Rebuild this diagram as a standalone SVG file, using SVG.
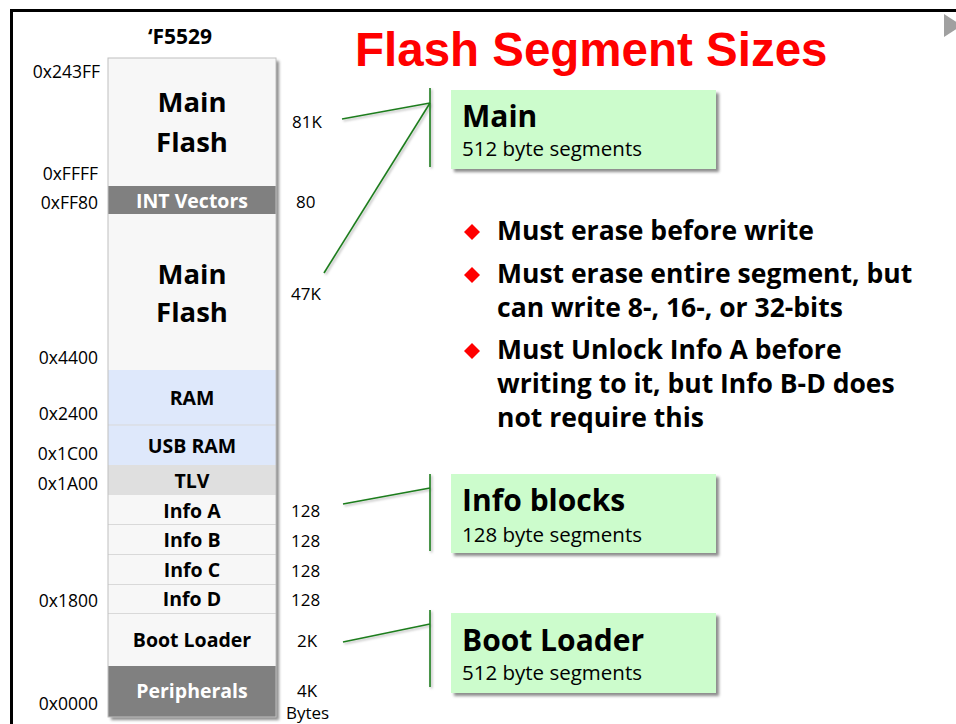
<svg xmlns="http://www.w3.org/2000/svg" width="956" height="724" viewBox="0 0 956 724">
<defs>
<filter id="sh" x="-10%" y="-10%" width="130%" height="130%">
<feDropShadow dx="3" dy="3" stdDeviation="1.5" flood-color="#000" flood-opacity="0.45"/>
</filter>
<filter id="lsh" x="-20%" y="-20%" width="140%" height="140%">
<feDropShadow dx="1.5" dy="1.5" stdDeviation="0.8" flood-color="#000" flood-opacity="0.3"/>
</filter>
</defs>
<style>
.seg{font-family:"Open Sans","Liberation Sans",sans-serif;font-weight:bold;font-size:19.5px;text-anchor:middle;fill:#000}
.big{font-size:27.5px}
.wt{fill:#fff}
.addr{font-family:"Open Sans","Liberation Sans",sans-serif;font-size:17.5px;text-anchor:end;fill:#000}
.sz{font-family:"Open Sans","Liberation Sans",sans-serif;font-size:17px;fill:#000}
.bul{font-family:"Open Sans","Liberation Sans",sans-serif;font-weight:bold;font-size:26.5px;fill:#000}
.bt{font-family:"Open Sans","Liberation Sans",sans-serif;font-weight:bold;font-size:30px;fill:#000}
.bs{font-family:"Open Sans","Liberation Sans",sans-serif;font-size:20.5px;fill:#000}
.gbox{fill:#ccfccc}
.sep{stroke:#d9d9d9;stroke-width:1}
.conn{stroke:#1e7d1e;stroke-width:1.6;fill:none}
.dia{fill:#f00}
</style>
<rect x="0" y="0" width="956" height="724" fill="#fff"/>
<!-- frame -->
<path d="M11.5 724 V10.5 H956" fill="none" stroke="#000" stroke-width="3"/>
<polygon points="944,14 962,25.5 944,37" fill="#a0a0a0"/>
<!-- title -->
<text x="355" y="66" font-family="'Liberation Sans',Arial,sans-serif" font-weight="bold" font-size="47.5" fill="#f00">Flash Segment Sizes</text>
<text x="180" y="44" font-family="'Open Sans','Liberation Sans',sans-serif" font-weight="bold" font-size="21" text-anchor="middle">‘F5529</text>

<!-- memory column -->
<g id="memory-map">
<rect x="108" y="58" width="168" height="659" fill="#f7f7f7" filter="url(#sh)"/>
<g id="main-flash-1">
<rect x="108" y="58" width="168" height="128" fill="#f7f7f7"/>
<text class="seg big" x="192" y="112">Main</text>
<text class="seg big" x="192" y="152">Flash</text>
</g>
<g id="int-vectors">
<rect x="108" y="186" width="168" height="28" fill="#808080"/>
<text class="seg wt" x="192" y="208">INT Vectors</text>
</g>
<g id="main-flash-2">
<rect x="108" y="214" width="168" height="156" fill="#f7f7f7"/>
<text class="seg big" x="192" y="284">Main</text>
<text class="seg big" x="192" y="322">Flash</text>
</g>
<g id="ram">
<rect x="108" y="370" width="168" height="55" fill="#dee8fb"/>
<text class="seg" x="192" y="405">RAM</text>
</g>
<g id="usb-ram">
<rect x="108" y="425" width="168" height="40" fill="#dee8fb"/>
<line class="sep" x1="108" y1="425" x2="276" y2="425"/>
<text class="seg" x="192" y="453">USB RAM</text>
</g>
<g id="tlv">
<rect x="108" y="465" width="168" height="30" fill="#dfdfdf"/>
<text class="seg" x="192" y="488">TLV</text>
</g>
<g id="info-a">
<rect x="108" y="495" width="168" height="29" fill="#f7f7f7"/>
<text class="seg" x="192" y="518">Info A</text>
</g>
<g id="info-b">
<rect x="108" y="524" width="168" height="30" fill="#f7f7f7"/>
<line class="sep" x1="108" y1="524.5" x2="276" y2="524.5"/>
<text class="seg" x="192" y="547">Info B</text>
</g>
<g id="info-c">
<rect x="108" y="554" width="168" height="30" fill="#f7f7f7"/>
<line class="sep" x1="108" y1="554.5" x2="276" y2="554.5"/>
<text class="seg" x="192" y="577">Info C</text>
</g>
<g id="info-d">
<rect x="108" y="584" width="168" height="29" fill="#f7f7f7"/>
<line class="sep" x1="108" y1="584.5" x2="276" y2="584.5"/>
<text class="seg" x="192" y="606">Info D</text>
</g>
<g id="boot-loader">
<rect x="108" y="613" width="168" height="53" fill="#f7f7f7"/>
<line class="sep" x1="108" y1="613.5" x2="276" y2="613.5"/>
<text class="seg" x="192" y="647">Boot Loader</text>
</g>
<g id="peripherals">
<rect x="108" y="666" width="168" height="51" fill="#808080"/>
<text class="seg wt" x="192" y="698">Peripherals</text>
</g>
<rect x="108" y="58" width="168" height="659" fill="none" stroke="#c0c0c0" stroke-width="1"/>
</g>

<!-- addresses -->
<g id="addresses">
<text class="addr" x="100" y="78">0x243FF</text>
<text class="addr" x="98" y="180">0xFFFF</text>
<text class="addr" x="98" y="209">0xFF80</text>
<text class="addr" x="98" y="364">0x4400</text>
<text class="addr" x="98" y="420">0x2400</text>
<text class="addr" x="98" y="460">0x1C00</text>
<text class="addr" x="98" y="490">0x1A00</text>
<text class="addr" x="98" y="607">0x1800</text>
<text class="addr" x="98" y="710">0x0000</text>
</g>

<!-- sizes -->
<g id="sizes">
<text class="sz" x="292" y="128">81K</text>
<text class="sz" x="296" y="208">80</text>
<text class="sz" x="291" y="300">47K</text>
<text class="sz" x="291" y="517">128</text>
<text class="sz" x="291" y="547">128</text>
<text class="sz" x="291" y="577">128</text>
<text class="sz" x="291" y="606">128</text>
<text class="sz" x="297" y="647">2K</text>
<text class="sz" x="297" y="697">4K</text>
<text class="sz" x="286" y="719">Bytes</text>
</g>

<!-- connectors -->
<g id="connectors" filter="url(#lsh)">
<line class="conn" x1="430" y1="88" x2="430" y2="167"/>
<line class="conn" x1="342" y1="119" x2="430" y2="103"/>
<line class="conn" x1="324" y1="273" x2="430" y2="103"/>
<line class="conn" x1="430" y1="474" x2="430" y2="551"/>
<line class="conn" x1="343" y1="504" x2="430" y2="488"/>
<line class="conn" x1="430" y1="610" x2="430" y2="687"/>
<line class="conn" x1="343" y1="642" x2="430" y2="624"/>
</g>

<!-- green boxes -->
<g id="box-main">
<rect class="gbox" x="451" y="90" width="265" height="79" filter="url(#sh)"/>
<text class="bt" x="462" y="127">Main</text>
<text class="bs" x="462" y="156">512 byte segments</text>
</g>
<g id="box-info">
<rect class="gbox" x="451" y="474" width="265" height="79" filter="url(#sh)"/>
<text class="bt" x="462" y="511">Info blocks</text>
<text class="bs" x="462" y="542">128 byte segments</text>
</g>
<g id="box-boot">
<rect class="gbox" x="451" y="613" width="265" height="80" filter="url(#sh)"/>
<text class="bt" x="462" y="651">Boot Loader</text>
<text class="bs" x="462" y="680">512 byte segments</text>
</g>

<!-- bullets -->
<g id="bullets">
<polygon class="dia" points="472,224 480,232 472,240 464,232"/>
<polygon class="dia" points="472,267 480,275 472,283 464,275"/>
<polygon class="dia" points="472,343 480,351 472,359 464,351"/>
<text class="bul" x="497" y="240">Must erase before write</text>
<text class="bul" x="497" y="283">Must erase entire segment, but</text>
<text class="bul" x="497" y="317">can write 8-, 16-, or 32-bits</text>
<text class="bul" x="497" y="359">Must Unlock Info A before</text>
<text class="bul" x="497" y="393">writing to it, but Info B-D does</text>
<text class="bul" x="497" y="427">not require this</text>
</g>
</svg>
